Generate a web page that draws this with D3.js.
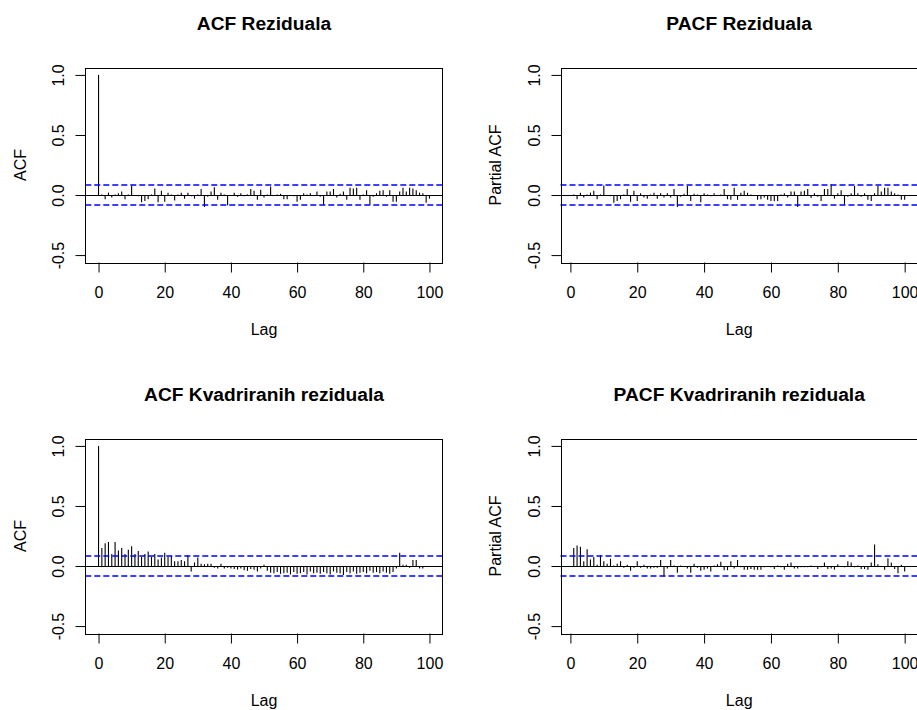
<html>
  <head>
    <meta charset="utf-8">
    <style>
      body { margin: 0; background: #fff; }
      text { font-family: "Liberation Sans", Arial, sans-serif; fill: #000; }
    </style>
  </head>
  <body>
    <script src="https://d3js.org/d3.v7.min.js"></script>
    <script>
      // DATA
      const acfResid = [1.0, 0.005, -0.035, 0.02, -0.02, 0.005, 0.015, 0.03, -0.035, 0.005,
        0.08, 0.0, -0.01, -0.06, -0.05, -0.035, 0.005, 0.055, -0.06, 0.035,
        -0.055, 0.02, 0.005, -0.045, 0.005, 0.02, -0.03, 0.02, -0.01, -0.03,
        0.005, 0.05, -0.1, -0.015, 0.03, 0.065, -0.04, 0.02, 0.005, -0.085,
        0.0, 0.02, -0.015, 0.015, -0.01, 0.005, 0.05, 0.035, -0.04, 0.045,
        -0.02, 0.005, 0.07, -0.005, 0.005, 0.01, -0.035, -0.035, -0.005, -0.01,
        -0.055, -0.04, 0.015, 0.005, 0.015, -0.005, 0.03, -0.015, -0.08, 0.03,
        0.03, 0.05, -0.02, 0.01, 0.03, -0.04, 0.06, 0.055, 0.06, -0.04,
        0.005, 0.04, -0.08, -0.015, 0.015, 0.035, 0.04, -0.015, 0.04, -0.055,
        -0.055, 0.03, 0.06, 0.03, 0.06, 0.055, 0.04, 0.02, 0.015, -0.065,
        -0.03];

      const pacfResid = [0.005, -0.035, 0.02, -0.02, 0.005, 0.02, 0.035, -0.035, 0.005, 0.08,
        0.0, -0.01, -0.065, -0.05, -0.035, 0.005, 0.05, -0.055, 0.035, -0.05,
        0.015, -0.02, -0.03, 0.005, 0.02, -0.03, 0.015, -0.02, 0.015, -0.02,
        0.05, -0.1, -0.015, 0.01, 0.075, -0.05, 0.01, 0.005, -0.06, 0.015,
        0.005, -0.01, 0.015, -0.005, 0.005, 0.05, -0.035, -0.04, 0.06, -0.04,
        0.02, 0.035, 0.02, 0.005, -0.005, -0.04, -0.035, -0.02, -0.04, -0.05,
        -0.05, -0.05, 0.005, 0.015, -0.02, 0.03, 0.03, -0.1, 0.03, 0.035,
        0.05, -0.025, 0.015, -0.015, -0.05, 0.05, 0.05, 0.09, -0.03, 0.015,
        0.04, -0.08, -0.015, 0.015, 0.075, 0.015, -0.015, 0.015, -0.04, -0.05,
        0.015, 0.075, 0.03, 0.06, 0.06, 0.03, 0.015, 0.005, -0.04, -0.04];

      const acfSquared = [1.0, 0.15, 0.19, 0.2, 0.1, 0.2, 0.13, 0.15, 0.1, 0.135,
        0.165, 0.1, 0.125, 0.075, 0.1, 0.12, 0.075, 0.1, 0.055, 0.07,
        0.11, 0.075, 0.085, 0.04, 0.04, 0.05, 0.04, 0.09, -0.045, 0.03,
        0.07, 0.02, 0.015, 0.02, 0.02, -0.015, -0.02, 0.02, -0.02, -0.015,
        -0.02, -0.025, -0.03, -0.02, -0.035, -0.04, -0.025, -0.03, -0.045, -0.02,
        0.01, -0.04, -0.055, -0.06, -0.05, -0.065, -0.06, -0.055, -0.07, -0.05,
        -0.065, -0.06, -0.05, -0.07, -0.045, -0.06, -0.055, -0.065, -0.05, -0.06,
        -0.07, -0.045, -0.055, -0.06, -0.075, -0.05, -0.06, -0.045, -0.065, -0.055,
        -0.05, -0.06, -0.04, -0.055, -0.05, -0.06, -0.045, -0.055, -0.065, -0.05,
        -0.02, 0.11, 0.01, 0.01, -0.015, 0.05, 0.05, -0.02, -0.02, -0.005,
        -0.005];

      const pacfSquared = [0.15, 0.17, 0.16, 0.04, 0.14, 0.055, 0.075, 0.01, 0.09, 0.04,
        0.02, 0.06, 0.005, 0.02, 0.04, -0.015, 0.01, -0.04, -0.015, 0.04,
        -0.015, 0.01, -0.02, -0.02, -0.015, -0.015, 0.05, -0.09, -0.02, 0.05,
        0.005, -0.055, 0.005, -0.005, -0.02, -0.055, 0.02, -0.015, -0.04, -0.03,
        -0.02, -0.045, 0.005, 0.015, 0.035, -0.035, -0.035, 0.04, -0.02, 0.05,
        -0.01, -0.03, -0.03, -0.025, -0.03, -0.03, -0.03, -0.01, 0.0, -0.01,
        -0.025, 0.005, -0.01, -0.03, 0.02, 0.03, -0.02, -0.02, -0.01, -0.01,
        -0.01, 0.005, 0.0, -0.025, -0.01, 0.03, -0.025, -0.02, -0.03, 0.015,
        0.0, -0.01, 0.04, 0.03, -0.01, 0.005, -0.025, -0.025, -0.03, 0.03,
        0.18, 0.015, 0.0, -0.03, 0.065, 0.03, -0.025, -0.06, 0.01, -0.045];

      const ciBound = 0.08;
      const xTicks = [0, 20, 40, 60, 80, 100];
      const yTicks = [-0.5, 0, 0.5, 1];
      const yLimits = [-0.5, 1];

      const panels = [
        { title: "ACF Reziduala", ylab: "ACF", values: acfResid, firstLag: 0, col: 0, row: 0 },
        { title: "PACF Reziduala", ylab: "Partial ACF", values: pacfResid, firstLag: 1, col: 1, row: 0 },
        { title: "ACF Kvadriranih reziduala", ylab: "ACF", values: acfSquared, firstLag: 0, col: 0, row: 1 },
        { title: "PACF Kvadriranih reziduala", ylab: "Partial ACF", values: pacfSquared, firstLag: 1, col: 1, row: 1 },
      ];

      const W = 917, H = 710;
      // plot box of the first panel, others are shifted
      const box = { left: 85.3, right: 442.7, top: 67.7, bottom: 262.3 };
      const colShift = 475.2, rowShift = 371;

      const svg = d3.select("body").append("svg").attr("width", W).attr("height", H);

      // R style 4% padding of the axis range
      function pad(lo, hi) {
        const d = (hi - lo) * 0.04;
        return [lo - d, hi + d];
      }
      // snap a horizontal line to the pixel grid
      const crisp = (v) => Math.round(v) + 0.5;
      // R prints a plain hyphen for negatives
      const fmtY = (d) => d3.format(".1f")(d).replace("\u2212", "-");

      panels.forEach((p) => {
        const dx = p.col * colShift, dy = p.row * rowShift;
        const L = box.left + dx, R = box.right + dx, T = box.top + dy, B = box.bottom + dy;
        const lags = p.values.map((v, i) => i + p.firstLag);

        const x = d3.scaleLinear().domain(pad(d3.min(lags), d3.max(lags))).range([L, R]);
        const y = d3.scaleLinear().domain(pad(yLimits[0], yLimits[1])).range([B, T]);

        const g = svg.append("g");

        // bars
        g.selectAll("line.bar")
          .data(p.values)
          .enter()
          .append("line")
          .attr("class", "bar")
          .attr("x1", (d, i) => x(lags[i]))
          .attr("x2", (d, i) => x(lags[i]))
          .attr("y1", crisp(y(0)))
          .attr("y2", (d) => y(d))
          .attr("stroke", "#000")
          .attr("stroke-width", 1.1);

        // zero line
        g.append("line")
          .attr("x1", L).attr("x2", R)
          .attr("y1", crisp(y(0))).attr("y2", crisp(y(0)))
          .attr("stroke", "#000");

        // confidence bounds
        g.selectAll("line.ci")
          .data([ciBound, -ciBound])
          .enter()
          .append("line")
          .attr("class", "ci")
          .attr("x1", L).attr("x2", R)
          .attr("y1", (d) => Math.round(y(d))).attr("y2", (d) => Math.round(y(d)))
          .attr("stroke", "#0000ff")
          .attr("stroke-width", 1.6)
          .attr("stroke-dasharray", "6,3");

        // box
        g.append("rect")
          .attr("x", crisp(L)).attr("y", crisp(T))
          .attr("width", Math.round(R - L)).attr("height", Math.round(B - T))
          .attr("fill", "none")
          .attr("stroke", "#000");

        // x axis
        const xAxis = d3.axisBottom(x).tickValues(xTicks).tickSize(10).tickFormat(d3.format("d"));
        const gx = g.append("g").attr("transform", `translate(0,${crisp(B)})`).call(xAxis);
        gx.select(".domain").remove();
        gx.selectAll("text")
          .attr("dy", null)
          .attr("y", 35)
          .style("font-size", "16px")
          .style("font-family", '"Liberation Sans", Arial, sans-serif');

        // y axis with rotated labels
        const yAxis = d3.axisLeft(y).tickValues(yTicks).tickSize(10).tickFormat(fmtY);
        const gy = g.append("g").attr("transform", `translate(${crisp(L)},0)`).call(yAxis);
        gy.select(".domain").remove();
        gy.selectAll("text")
          .attr("x", null).attr("dy", null)
          .attr("text-anchor", "middle")
          .attr("transform", "translate(-22,0) rotate(-90)")
          .style("font-size", "16px")
          .style("font-family", '"Liberation Sans", Arial, sans-serif');

        // titles and labels
        g.append("text")
          .attr("x", (L + R) / 2).attr("y", T - 37.7)
          .attr("text-anchor", "middle")
          .style("font-size", "19.2px")
          .style("font-weight", "bold")
          .text(p.title);

        g.append("text")
          .attr("x", (L + R) / 2).attr("y", B + 72.5)
          .attr("text-anchor", "middle")
          .style("font-size", "16px")
          .text("Lag");

        g.append("text")
          .attr("transform", `translate(${L - 59.5},${(T + B) / 2}) rotate(-90)`)
          .attr("text-anchor", "middle")
          .style("font-size", "16px")
          .text(p.ylab);
      });
    </script>
  </body>
</html>
